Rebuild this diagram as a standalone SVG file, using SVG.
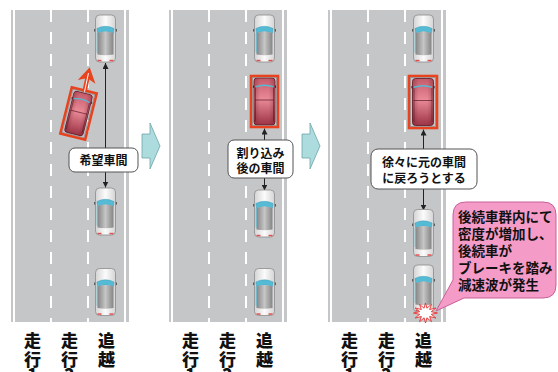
<svg xmlns="http://www.w3.org/2000/svg" width="558" height="372" viewBox="0 0 558 372">
  <style>
    .road { fill: #c5c6c8; }
    .edge { stroke: #ffffff; stroke-width: 2; }
    .dash { stroke: #ffffff; stroke-width: 2; stroke-dasharray: 12 10; }
    .frame { fill: none; stroke: #e8431e; stroke-width: 2.6; }
    .frame-in { fill: none; stroke: #8a8a8a; stroke-width: 0.6; }
    .conn { stroke: #222222; stroke-width: 1; fill: none; }
    .box { fill: #ffffff; stroke: #555555; stroke-width: 1; }
    .jp { font-family: "Noto Sans CJK JP", "Noto Sans CJK SC", sans-serif; font-weight: 700; fill: #111111; }
    .lbl { font-size: 12px; text-anchor: middle; }
    .lane { font-size: 17px; text-anchor: middle; font-weight: 900; }
    .step { fill: #acdcdd; stroke: #6da5ab; stroke-width: 0.8; }
  </style>
  <defs>
    <linearGradient id="carBody" x1="0" y1="0" x2="1" y2="0">
      <stop offset="0" stop-color="#d4d4d4"/>
      <stop offset="0.5" stop-color="#fbfbfb"/>
      <stop offset="1" stop-color="#d4d4d4"/>
    </linearGradient>
    <linearGradient id="carRoof" x1="0" y1="0" x2="1" y2="0">
      <stop offset="0" stop-color="#858585"/>
      <stop offset="0.5" stop-color="#c6c6c6"/>
      <stop offset="1" stop-color="#858585"/>
    </linearGradient>
    <linearGradient id="redBody" x1="0" y1="0" x2="0" y2="1">
      <stop offset="0" stop-color="#c45a6a"/>
      <stop offset="0.45" stop-color="#ea8a97"/>
      <stop offset="1" stop-color="#9c3445"/>
    </linearGradient>
    <linearGradient id="redSide" x1="0" y1="0" x2="1" y2="0">
      <stop offset="0" stop-color="#6a1a28" stop-opacity="0.35"/>
      <stop offset="0.3" stop-color="#6a1a28" stop-opacity="0"/>
      <stop offset="0.7" stop-color="#6a1a28" stop-opacity="0"/>
      <stop offset="1" stop-color="#6a1a28" stop-opacity="0.35"/>
    </linearGradient>
    <marker id="ah" viewBox="0 0 8 8" refX="8" refY="4" markerWidth="6" markerHeight="6" orient="auto-start-reverse">
      <path d="M0,0 L8,4 L0,8 Z" fill="#222222"/>
    </marker>
    <!-- grey car seen from above, nose pointing up -->
    <g id="car">
      <rect x="-11.3" y="-9.5" width="1.6" height="2.6" fill="#444444"/>
      <rect x="9.7" y="-9.5" width="1.6" height="2.6" fill="#444444"/>
      <rect x="-10" y="-23.5" width="20" height="47" rx="4" fill="url(#carBody)" stroke="#8c8c8c" stroke-width="0.8"/>
      <path d="M-8.6,-10 Q0,-14.5 8.6,-10 L8,-5.5 Q0,-8.5 -8,-5.5 Z" fill="#55bad4" stroke="#2f8fae" stroke-width="0.4"/>
      <path d="M-8,-5.5 Q0,-8.5 8,-5.5 L8,16 Q0,17.5 -8,16 Z" fill="url(#carRoof)"/>
      <path d="M-8.3,-5.5 V14" stroke="#55bad4" stroke-width="0.9"/>
      <rect x="-8" y="21.3" width="4" height="1.5" fill="#e05050"/>
      <rect x="4" y="21.3" width="4" height="1.5" fill="#e05050"/>
    </g>
    <!-- red car -->
    <g id="redcar">
      <rect x="-11.6" y="-16" width="1.4" height="2.4" fill="#333333"/>
      <rect x="10.2" y="-16" width="1.4" height="2.4" fill="#333333"/>
      <rect x="-10.5" y="-23.5" width="21" height="47" rx="3" fill="url(#redBody)" stroke="#5a1622" stroke-width="0.8"/>
      <rect x="-10.5" y="-23.5" width="21" height="47" rx="3" fill="url(#redSide)"/>
      <path d="M-9,-15.5 Q0,-18.5 9,-15.5 L9,-14 Q0,-17 -9,-14 Z" fill="#55bad4"/>
      <path d="M-9,-14 V20 M9,-14 V20" stroke="#5a1622" stroke-width="0.6"/>
      <path d="M-9.5,-1.5 H9.5" stroke="#5a1622" stroke-width="0.7"/>
    </g>
  </defs>

  <rect width="558" height="372" fill="#ffffff"/>

  <!-- road 1 -->
  <g id="road1">
    <rect class="road" x="11" y="10" width="118" height="312"/>
    <line class="edge" x1="14" y1="10" x2="14" y2="322"/>
    <line class="dash" x1="51" y1="10" x2="51" y2="322"/>
    <line class="dash" x1="88" y1="10" x2="88" y2="322"/>
    <line class="edge" x1="125" y1="10" x2="125" y2="322"/>
  </g>
  <!-- road 2 -->
  <g id="road2">
    <rect class="road" x="169" y="10" width="118" height="312"/>
    <line class="edge" x1="172" y1="10" x2="172" y2="322"/>
    <line class="dash" x1="209" y1="10" x2="209" y2="322"/>
    <line class="dash" x1="246" y1="10" x2="246" y2="322"/>
    <line class="edge" x1="283" y1="10" x2="283" y2="322"/>
  </g>
  <!-- road 3 -->
  <g id="road3">
    <rect class="road" x="328" y="10" width="118" height="312"/>
    <line class="edge" x1="331" y1="10" x2="331" y2="322"/>
    <line class="dash" x1="368" y1="10" x2="368" y2="322"/>
    <line class="dash" x1="405" y1="10" x2="405" y2="322"/>
    <line class="edge" x1="442" y1="10" x2="442" y2="322"/>
  </g>

  <!-- step arrows -->
  <g id="step1"><path class="step" d="M142,134 H150 V123 L160,146 L150,169 V158 H142 Z"/></g>
  <g id="step2"><path class="step" d="M302,134 H310 V123 L320,146 L310,169 V158 H302 Z"/></g>

  <!-- connectors -->
  <g id="connectors">
    <line class="conn" x1="105.5" y1="63" x2="105.5" y2="187.5" marker-start="url(#ah)" marker-end="url(#ah)"/>
    <line class="conn" x1="264.5" y1="128.5" x2="264.5" y2="140" marker-start="url(#ah)"/>
    <line class="conn" x1="264.5" y1="178" x2="264.5" y2="190.5" marker-end="url(#ah)"/>
    <line class="conn" x1="423.5" y1="129.5" x2="423.5" y2="149" marker-start="url(#ah)"/>
    <line class="conn" x1="423.5" y1="189" x2="423.5" y2="210.5" marker-end="url(#ah)"/>
  </g>

  <!-- panel 1 vehicles -->
  <g id="p1-car-front"><use href="#car" x="105.5" y="38.5"/></g>
  <g id="p1-car-mid"><use href="#car" x="105.5" y="211.5"/></g>
  <g id="p1-car-rear"><use href="#car" x="105.5" y="292"/></g>
  <g id="p1-merging" transform="translate(78.5,113.5) rotate(14)">
    <g transform="scale(0.9)"><use href="#redcar"/></g>
    <rect class="frame" x="-12.8" y="-23.8" width="25.6" height="47.6"/>
    <rect class="frame-in" x="-11.2" y="-22.2" width="22.4" height="44.4"/>
  </g>
  <g id="p1-move" transform="translate(87,80) rotate(12)">
    <path d="M0,-13 L9,2 L2.2,-1 V12 H-2.2 V-1 L-9,2 Z" fill="#e8431e"/>
    <path d="M0,-7 V12" stroke="#ffffff" stroke-width="1"/>
  </g>
  <g id="p1-gap">
    <rect class="box" x="69" y="148" width="69" height="24" rx="6"/>
    <text class="jp lbl" x="103.5" y="164.5">希望車間</text>
  </g>

  <!-- panel 2 vehicles -->
  <g id="p2-car-front"><use href="#car" x="264.5" y="38.5"/></g>
  <g id="p2-merged" transform="translate(264.5,101.5)">
    <use href="#redcar"/>
    <rect class="frame" x="-13.5" y="-25.5" width="27" height="51"/>
    <rect class="frame-in" x="-11.9" y="-23.9" width="23.8" height="47.8"/>
  </g>
  <g id="p2-car-mid"><use href="#car" x="264.5" y="213.5"/></g>
  <g id="p2-car-rear"><use href="#car" x="264.5" y="292"/></g>
  <g id="p2-gap">
    <rect class="box" x="228" y="140" width="65" height="38" rx="6"/>
    <text class="jp lbl" x="260.5" y="157.5">割り込み</text>
    <text class="jp lbl" x="260.5" y="173">後の車間</text>
  </g>

  <!-- panel 3 vehicles -->
  <g id="p3-car-front"><use href="#car" x="423.5" y="38.5"/></g>
  <g id="p3-merged" transform="translate(423,102)">
    <use href="#redcar"/>
    <rect class="frame" x="-14" y="-26" width="28" height="52"/>
    <rect class="frame-in" x="-12.4" y="-24.4" width="24.8" height="48.8"/>
  </g>
  <g id="p3-car-mid"><use href="#car" x="423.5" y="233"/></g>
  <g id="p3-car-rear"><use href="#car" x="423.5" y="288.5"/></g>
  <g id="p3-brake">
    <polygon points="437.5,313 431.3,314.3 435.9,318 429.6,316.5 431.5,321.7 426.9,317.8 425.5,323 424.1,317.8 419.5,321.7 421.4,316.5 415.1,318 419.7,314.3 413.5,313 419.7,311.7 415.1,308 421.4,309.5 419.5,304.3 424.1,308.2 425.5,303 426.9,308.2 431.5,304.3 429.6,309.5 435.9,308 431.3,311.7" fill="#ffffff" stroke="#e83030" stroke-width="0.9"/>
  </g>
  <g id="p3-gap">
    <rect class="box" x="371" y="149" width="106" height="40" rx="7"/>
    <text class="jp lbl" x="424" y="167">徐々に元の車間</text>
    <text class="jp lbl" x="424" y="183">に戻ろうとする</text>
  </g>
  <g id="p3-note">
    <path d="M466,202 H543 Q556,202 556,215 V285 Q556,298 543,298 H464 L436,311 L453,280 V215 Q453,202 466,202 Z" fill="#f49cc7" stroke="#c8609a" stroke-width="1"/>
    <text class="jp" font-size="13.5" x="458" y="222">後続車群内にて</text>
    <text class="jp" font-size="13.5" x="458" y="239">密度が増加し、</text>
    <text class="jp" font-size="13.5" x="458" y="256">後続車が</text>
    <text class="jp" font-size="13.5" x="458" y="273">ブレーキを踏み</text>
    <text class="jp" font-size="13.5" x="458" y="290">減速波が発生</text>
  </g>

  <!-- lane names, one character per row -->
  <g id="lane-names" class="jp lane">
    <text x="32.5" y="347">走</text><text x="32.5" y="366">行</text><text x="32.5" y="381">1</text>
    <text x="69.5" y="347">走</text><text x="69.5" y="366">行</text><text x="69.5" y="381">2</text>
    <text x="106.5" y="347">追</text><text x="106.5" y="366">越</text>
    <text x="190.5" y="347">走</text><text x="190.5" y="366">行</text><text x="190.5" y="381">1</text>
    <text x="227.5" y="347">走</text><text x="227.5" y="366">行</text><text x="227.5" y="381">2</text>
    <text x="264.5" y="347">追</text><text x="264.5" y="366">越</text>
    <text x="349.5" y="347">走</text><text x="349.5" y="366">行</text><text x="349.5" y="381">1</text>
    <text x="386.5" y="347">走</text><text x="386.5" y="366">行</text><text x="386.5" y="381">2</text>
    <text x="423.5" y="347">追</text><text x="423.5" y="366">越</text>
  </g>
</svg>
